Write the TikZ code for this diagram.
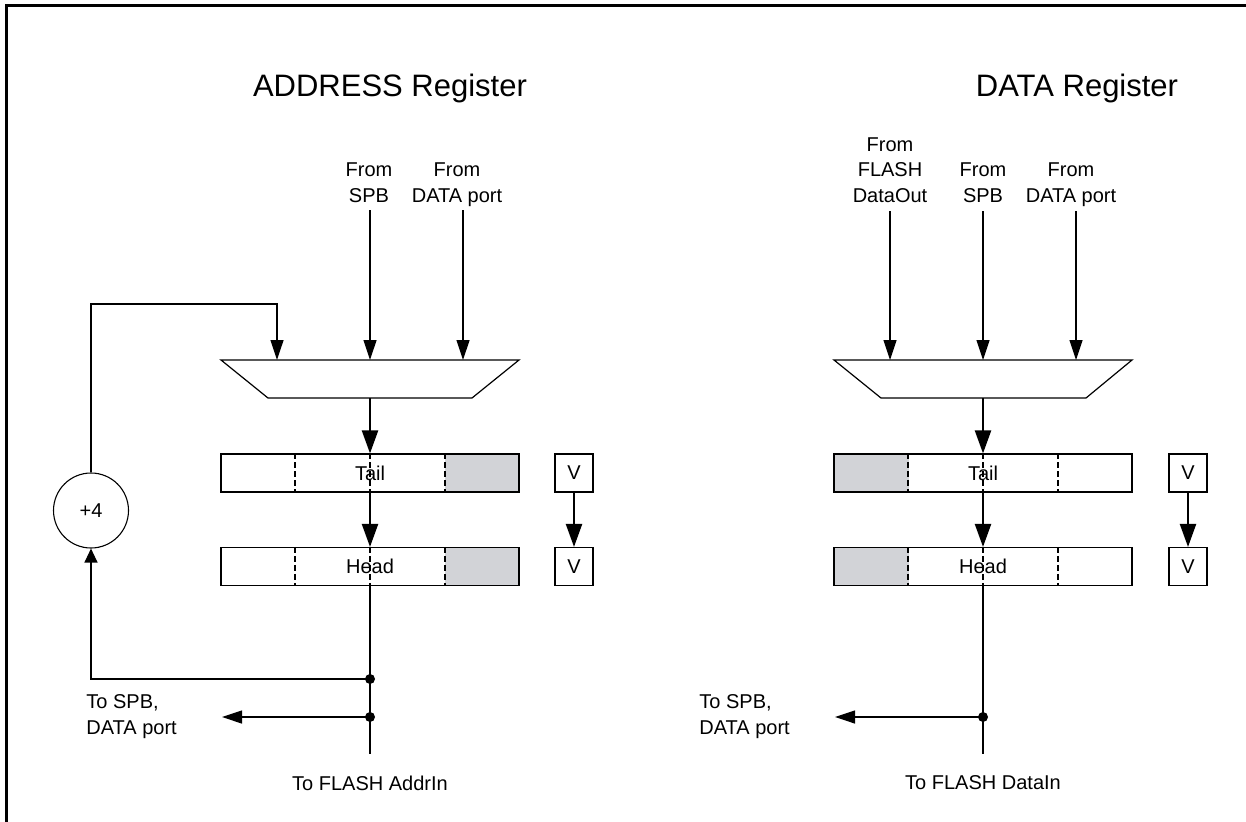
\documentclass[tikz,border=0pt]{standalone}
\usepackage{fontspec}
\setmainfont{Liberation Sans}
\usetikzlibrary{arrows.meta,calc}
\definecolor{regfill}{RGB}{210,211,215}
\begin{document}
\begin{tikzpicture}[x=1pt,y=-1pt,
  wire/.style={line width=1.2pt,draw=black},
  arr/.style={wire,-{Triangle[length=20pt,width=13pt]}},
  smallarr/.style={wire,-{Triangle[length=14pt,width=13pt]}},
  thickarr/.style={line width=2.2pt,draw=black,-{Triangle[length=23pt,width=16pt]}},
  lbl/.style={font=\fontsize{20}{25.5}\selectfont,align=center,inner sep=0pt},
  outlbl/.style={font=\fontsize{20}{26}\selectfont,align=left,inner sep=0pt},
  titlelbl/.style={font=\fontsize{31}{37}\selectfont,inner sep=0pt},
  reg/.style={draw,line width=1.1pt,minimum width=298pt,minimum height=38pt,inner sep=0pt,font=\fontsize{20}{24}\selectfont},
  vbox/.style={draw,line width=1.1pt,minimum width=38pt,minimum height=38pt,inner sep=0pt,font=\fontsize{20}{24}\selectfont},
  jdot/.style={circle,fill=black,inner sep=0pt,minimum size=10pt},
  div/.style={line width=1.6pt,dash pattern=on 6pt off 3pt},
  mux/.style={wire,fill=white}]
\useasboundingbox (0,0) rectangle (1246,821);
% frame
\draw[line width=3pt] (6,830) -- (6,6) -- (1250,6);

% ================= ADDRESS register =================
\node[titlelbl] (atitle) at (390,88) {ADDRESS Register};
\node[lbl,anchor=north] (aspb) at (369,162.7) {From\\SPB};
\node[lbl,anchor=north] (adp) at (457,162.7) {From\\DATA port};
\coordinate (ain1) at (277,360);
\coordinate (ain2) at (370,360);
\coordinate (ain3) at (463,360);
\coordinate (ain2top) at (370,210);
\coordinate (ain3top) at (463,210);
\coordinate (afb) at (277,304);
\coordinate (aout) at (370,398);
\draw[mux] (221,360) -- (519,360) -- (472,398) -- (268,398) -- cycle;
\draw[arr] (ain2top) -- (ain2);
\draw[arr] (ain3top) -- (ain3);

\fill[regfill] (444.5,454) rectangle (519,492);
\fill[regfill] (444.5,548) rectangle (519,585);
\node[reg] (atail) at (370,473) {Tail};
\node[reg] (ahead) at (370,566.5) {Head};
\foreach \r in {atail,ahead}{
  \foreach \f in {0.25,0.5,0.75}{
    \draw[div] ($(\r.north west)!\f!(\r.north east)$) -- ($(\r.south west)!\f!(\r.south east)$);
  }
}
\draw[thickarr] (aout) -- (atail.north);
\draw[thickarr] (atail.south) -- (ahead.north);

\node[vbox] (av1) at (574,473) {V};
\node[vbox] (av2) at (574,566.5) {V};
\draw[thickarr] (av1.south) -- (av2.north);

\node[draw,circle,line width=1.1pt,minimum size=75pt,inner sep=0pt,font=\fontsize{20}{24}\selectfont] (plus) at (91,510.5) {+4};
\draw[arr] (plus.north) |- (afb) -- (ain1);

\coordinate (aend) at (370,754);
\node[jdot] (adot1) at (370,679) {};
\node[jdot] (adot2) at (370,717) {};
\draw[wire] (ahead.south) -- (aend);
\draw[smallarr] (adot1.center) -| (plus.south);
\coordinate (aleft) at (222,717);
\draw[arr] (adot2.center) -- (aleft);
\node[outlbl,anchor=east] (aoutlbl) at (177,717) {To SPB,\\DATA port};
\node[lbl] (aflash) at (370,783) {To FLASH AddrIn};

% ================= DATA register =================
\node[titlelbl] (dtitle) at (1077,88) {DATA Register};
\node[lbl,anchor=north] (dfl) at (890,137.5) {From\\FLASH\\DataOut};
\node[lbl,anchor=north] (dspb) at (983,162.7) {From\\SPB};
\node[lbl,anchor=north] (ddp) at (1071,162.7) {From\\DATA port};
\coordinate (din1) at (890,360);
\coordinate (din2) at (983,360);
\coordinate (din3) at (1076,360);
\coordinate (din1top) at (890,211);
\coordinate (din2top) at (983,211);
\coordinate (din3top) at (1076,211);
\coordinate (dout) at (983,398);
\draw[mux] (834,360) -- (1132,360) -- (1086,398) -- (881,398) -- cycle;
\draw[arr] (din1top) -- (din1);
\draw[arr] (din2top) -- (din2);
\draw[arr] (din3top) -- (din3);

\fill[regfill] (834,454) rectangle (908.5,492);
\fill[regfill] (834,548) rectangle (908.5,585);
\node[reg] (dtail) at (983,473) {Tail};
\node[reg] (dhead) at (983,566.5) {Head};
\foreach \r in {dtail,dhead}{
  \foreach \f in {0.25,0.5,0.75}{
    \draw[div] ($(\r.north west)!\f!(\r.north east)$) -- ($(\r.south west)!\f!(\r.south east)$);
  }
}
\draw[thickarr] (dout) -- (dtail.north);
\draw[thickarr] (dtail.south) -- (dhead.north);

\node[vbox] (dv1) at (1188,473) {V};
\node[vbox] (dv2) at (1188,566.5) {V};
\draw[thickarr] (dv1.south) -- (dv2.north);

\coordinate (dend) at (983,754);
\node[jdot] (ddot) at (983,717) {};
\draw[wire] (dhead.south) -- (dend);
\coordinate (dleft) at (835,717);
\draw[arr] (ddot.center) -- (dleft);
\node[outlbl,anchor=east] (doutlbl) at (790,717) {To SPB,\\DATA port};
\node[lbl] (dflash) at (983,783) {To FLASH DataIn};
\end{tikzpicture}
\end{document}
